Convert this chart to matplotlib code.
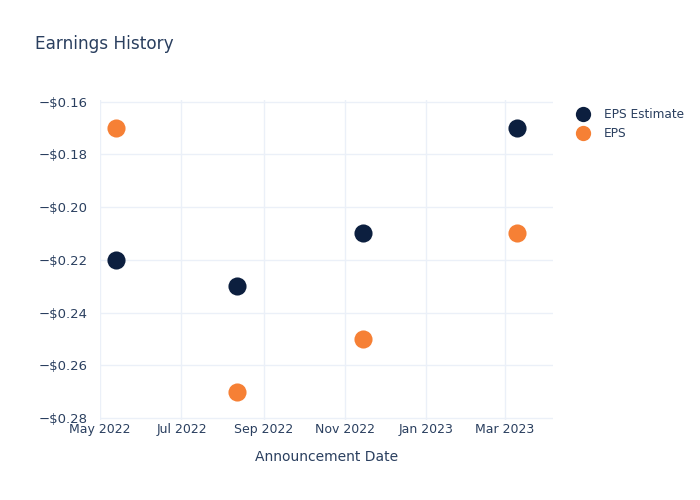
import numpy as np
import pandas as pd
import matplotlib
matplotlib.use('Agg')
import matplotlib.pyplot as plt
import matplotlib.dates as mdates
from matplotlib.lines import Line2D

# DADOS
datas = pd.to_datetime(['2022-05-13', '2022-08-12', '2022-11-14', '2023-03-10'])
eps_estimado = [-0.22, -0.23, -0.21, -0.17]
eps_real = [-0.17, -0.27, -0.25, -0.21]
rotulos_x = ['May 2022', 'Jul 2022', 'Sep 2022', 'Nov 2022', 'Jan 2023', 'Mar 2023']
ticks_x = pd.to_datetime(['2022-05-01', '2022-07-01', '2022-09-01', '2022-11-01', '2023-01-01', '2023-03-01'])
ticks_y = [-0.28, -0.26, -0.24, -0.22, -0.20, -0.18, -0.16]

# CORES
cor_texto = '#2a3f5f'
cor_grade = '#ebf0f8'
cor_estimado = '#0c1f3f'
cor_eps = '#f68035'

fig = plt.figure(figsize=(7, 5), dpi=100)
ax = fig.add_axes([100 / 700, 80 / 500, 453 / 700, 320 / 500])

ax.scatter(datas, eps_estimado, s=170, color=cor_estimado, zorder=3, linewidths=0)
ax.scatter(datas, eps_real, s=170, color=cor_eps, zorder=3, linewidths=0)

# EIXOS
ax.set_xlim(pd.Timestamp('2022-04-30 20:00'), pd.Timestamp('2023-04-06'))
ax.set_ylim(-0.28076, -0.15935)
ax.set_xticks(ticks_x)
ax.set_xticklabels(rotulos_x)
ax.set_yticks(ticks_y)
ax.set_yticklabels(['\u2212$%.2f' % abs(v) for v in ticks_y])
ax.tick_params(axis='both', length=0, labelsize=9, colors=cor_texto)
ax.tick_params(axis='y', pad=9, labelsize=9.5)
ax.tick_params(axis='x', pad=2)
ax.grid(True, color=cor_grade, linewidth=1)
ax.set_axisbelow(True)
for s in ax.spines.values():
    s.set_visible(False)

ax.set_xlabel('Announcement Date', fontsize=10, color=cor_texto, labelpad=10)
fig.text(35 / 700, 1 - 44 / 500, 'Earnings History', fontsize=12.2, color=cor_texto, va='center', ha='left')

# LEGENDA
h1 = Line2D([], [], marker='o', linestyle='', markersize=11, markerfacecolor=cor_estimado, markeredgewidth=0)
h2 = Line2D([], [], marker='o', linestyle='', markersize=11, markerfacecolor=cor_eps, markeredgewidth=0)
fig.legend([h1, h2], ['EPS Estimate', 'EPS'], loc='upper left', bbox_to_anchor=(576 / 700, 1 - 108 / 500),
           frameon=False, fontsize=8.7, labelcolor=cor_texto, handletextpad=1.1, labelspacing=0.5,
           borderaxespad=0, borderpad=0, handlelength=1.2)

fig.savefig('out.png', dpi=100)
